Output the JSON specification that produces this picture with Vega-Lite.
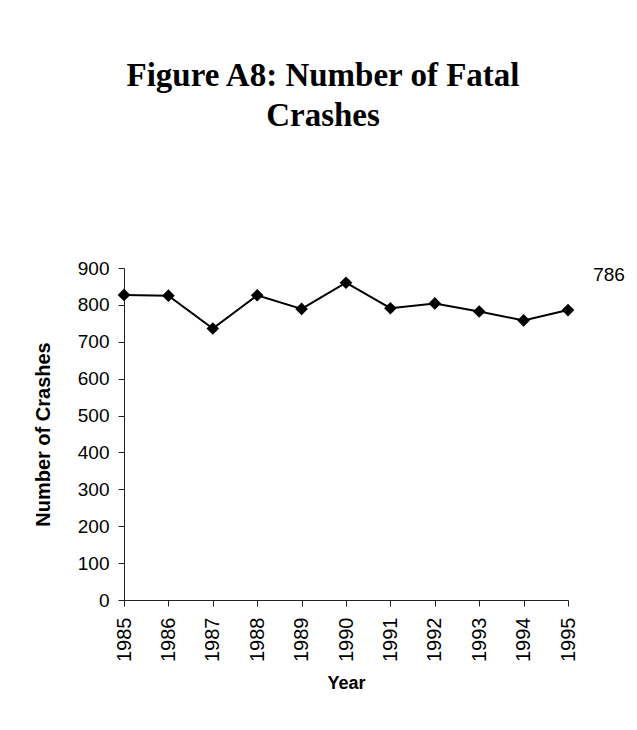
{
  "$schema": "https://vega.github.io/schema/vega-lite/v6.json",
  "autosize": "none",
  "width": 444,
  "height": 332,
  "padding": {"left": 124, "top": 268, "right": 69, "bottom": 130},
  "background": "white",
  "config": {
    "view": {"stroke": null},
    "font": "Liberation Sans"
  },
  "title": {
    "text": ["Figure A8: Number of Fatal", "Crashes"],
    "font": "Liberation Serif",
    "fontSize": 33,
    "fontWeight": "bold",
    "color": "black",
    "lineHeight": 40,
    "anchor": "middle",
    "frame": "group",
    "dx": -23,
    "offset": 126
  },
  "data": {
    "values": [
      {"Year": 1985, "Crashes": 827},
      {"Year": 1986, "Crashes": 825},
      {"Year": 1987, "Crashes": 736},
      {"Year": 1988, "Crashes": 826},
      {"Year": 1989, "Crashes": 789},
      {"Year": 1990, "Crashes": 860},
      {"Year": 1991, "Crashes": 791},
      {"Year": 1992, "Crashes": 804},
      {"Year": 1993, "Crashes": 782},
      {"Year": 1994, "Crashes": 758},
      {"Year": 1995, "Crashes": 786}
    ]
  },
  "encoding": {
    "x": {
      "field": "Year",
      "type": "quantitative",
      "scale": {"domain": [1985, 1995], "nice": false, "zero": false},
      "axis": {
        "title": "Year",
        "values": [1985, 1986, 1987, 1988, 1989, 1990, 1991, 1992, 1993, 1994, 1995],
        "format": "d",
        "labelAngle": -90,
        "labelAlign": "right",
        "labelBaseline": "middle",
        "labelFontSize": 20,
        "labelColor": "black",
        "labelPadding": 11,
        "tickSize": 6,
        "tickColor": "#222",
        "domainColor": "#222",
        "grid": false,
        "titleFontSize": 18,
        "titleFontWeight": "bold",
        "titleColor": "black",
        "titlePadding": 13
      }
    },
    "y": {
      "field": "Crashes",
      "type": "quantitative",
      "scale": {"domain": [0, 900], "nice": false},
      "axis": {
        "title": "Number of Crashes",
        "values": [0, 100, 200, 300, 400, 500, 600, 700, 800, 900],
        "labelFontSize": 19,
        "labelColor": "black",
        "labelPadding": 9,
        "tickSize": 6,
        "tickColor": "#222",
        "domainColor": "#222",
        "grid": false,
        "titleFontSize": 20,
        "titleFontWeight": "bold",
        "titleColor": "black",
        "titlePadding": 24
      }
    }
  },
  "layer": [
    {"mark": {"type": "line", "color": "black", "strokeWidth": 2}},
    {"mark": {"type": "point", "shape": "diamond", "filled": true, "color": "black", "size": 160, "opacity": 1}},
    {
      "transform": [{"filter": "datum.Year == 1995"}],
      "mark": {"type": "text", "fontSize": 19, "color": "black", "align": "center", "dx": 41, "dy": -35},
      "encoding": {"text": {"field": "Crashes", "type": "quantitative"}}
    }
  ]
}
